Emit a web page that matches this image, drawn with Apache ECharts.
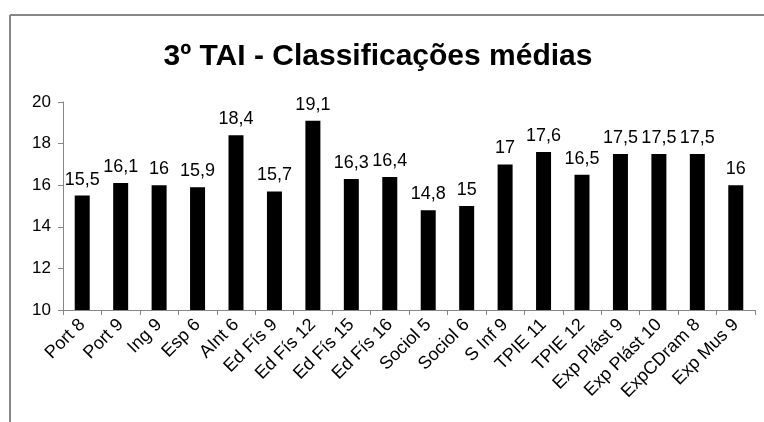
<!DOCTYPE html>
<html>
<head>
<meta charset="utf-8">
<script src="https://cdn.jsdelivr.net/npm/echarts@6/dist/echarts.min.js"></script>
<style>
  html, body { margin: 0; padding: 0; background: #fff; }
  #chart { width: 764px; height: 422px; }
</style>
</head>
<body>
<div id="chart"></div>
<script>
// disciplinas e médias
const categorias = ['Port 8', 'Port 9', 'Ing 9', 'Esp 6', 'AInt 6', 'Ed Fís 9', 'Ed Fís 12', 'Ed Fís 15',
  'Ed Fís 16', 'Sociol 5', 'Sociol 6', 'S Inf 9', 'TPIE 11', 'TPIE 12', 'Exp Plást 9', 'Exp Plást 10',
  'ExpCDram 8', 'Exp Mus 9'];
const medias = [15.5, 16.1, 16, 15.9, 18.4, 15.7, 19.1, 16.3, 16.4, 14.8, 15, 17, 17.6, 16.5, 17.5, 17.5, 17.5, 16];
const eixoY = { min: 10, max: 20, interval: 2 };

const fonte = '"Liberation Sans", "DejaVu Sans", sans-serif';
const chart = echarts.init(document.getElementById('chart'));

const option = {
  animation: false,
  backgroundColor: '#fff',
  graphic: [
    // moldura cinzenta (só topo e lado esquerdo visíveis)
    { type: 'line', shape: { x1: 10, y1: 15, x2: 764, y2: 15 }, style: { stroke: '#868686', lineWidth: 2 } },
    { type: 'line', shape: { x1: 10, y1: 15, x2: 10, y2: 422 }, style: { stroke: '#868686', lineWidth: 2 } }
  ],
  title: {
    text: '3º TAI - Classificações médias',
    left: 373,
    textAlign: 'center',
    top: 37,
    textStyle: { fontFamily: fonte, fontSize: 30, fontWeight: 'bold', color: '#000' }
  },
  grid: { left: 63, right: 9, top: 102, bottom: 112 },
  xAxis: {
    type: 'category',
    data: categorias,
    axisLine: { lineStyle: { color: '#868686', width: 1 } },
    axisTick: { show: true, alignWithLabel: false, length: 5, lineStyle: { color: '#868686' } },
    axisLabel: { rotate: 45, interval: 0, margin: 12, color: '#000', fontFamily: fonte, fontSize: 18 }
  },
  yAxis: {
    type: 'value',
    min: eixoY.min,
    max: eixoY.max,
    interval: eixoY.interval,
    splitLine: { show: false },
    axisLine: { show: true, lineStyle: { color: '#868686', width: 1 } },
    axisTick: { show: true, length: 5, lineStyle: { color: '#868686' } },
    axisLabel: { color: '#000', fontFamily: fonte, fontSize: 17, margin: 12 }
  },
  series: [{
    type: 'bar',
    data: medias,
    barWidth: 15,
    itemStyle: { color: '#000' },
    label: {
      show: true,
      position: 'top',
      distance: 7,
      color: '#000',
      fontFamily: fonte,
      fontSize: 18,
      formatter: p => String(p.value).replace('.', ',')
    }
  }]
};

chart.setOption(option);
</script>
</body>
</html>
